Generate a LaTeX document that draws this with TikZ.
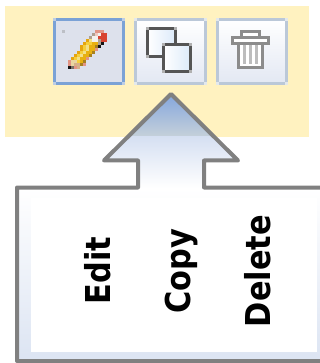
\documentclass[tikz,border=0pt]{standalone}
\usepackage{graphicx}
\usepackage{fontspec}
\setmainfont{DejaVu Sans}
\definecolor{band}{HTML}{FFF2C0}
\definecolor{outl}{HTML}{808080}
\definecolor{selb}{HTML}{7BA2D6}
\definecolor{selc}{HTML}{BDCDE4}
\definecolor{selbg}{HTML}{DDE1EC}
\definecolor{btnb}{HTML}{BBC8D8}
\definecolor{btnc}{HTML}{E3E8EC}
\definecolor{btnlo}{HTML}{E3E8F3}
\definecolor{iconl}{HTML}{555555}
\definecolor{iconc}{HTML}{B0B0B0}
\definecolor{doclo}{HTML}{DCEAFA}
\definecolor{trash}{HTML}{8C8C8C}
\definecolor{stripe}{HTML}{BDBDBD}
\definecolor{boxlo}{HTML}{DDE5F3}
\definecolor{tipc}{HTML}{84A6DD}
\definecolor{midc}{HTML}{C6D1DA}
\definecolor{lowc}{HTML}{D6E0F2}
\definecolor{sa}{HTML}{E29484}
\definecolor{pk}{HTML}{F0C8C0}
\definecolor{gt}{HTML}{AFA090}
\definecolor{rd}{HTML}{D8432F}
\definecolor{wh}{HTML}{F4F2EE}
\definecolor{og}{HTML}{E5A510}
\definecolor{ye}{HTML}{F5CF3C}
\definecolor{ly}{HTML}{F2E08A}
\definecolor{gd}{HTML}{E8B010}
\definecolor{br}{HTML}{A8811F}
\definecolor{bk}{HTML}{141414}
\definecolor{cr}{HTML}{EAD6A0}
\definecolor{tn}{HTML}{D6B088}
\definecolor{gy}{HTML}{787068}
\tikzset{
  x=1pt,y=-1pt,
  btnsel/.style={fill=selbg,draw=selb,line width=3pt},
  btnplain/.style={top color=white,bottom color=btnlo,draw=btnb,line width=3pt},
  doc/.style={left color=white,right color=doclo,draw=iconl,line width=3pt},
  trashline/.style={draw=trash,line width=3pt},
  outline/.style={draw=outl,line width=4pt,line join=round},
  label/.style={font=\bfseries\fontsize{34.3}{36}\selectfont,rotate=90,anchor=base,inner sep=0pt,text=black}
}
\newcommand{\corners}[5]{%
  \fill[#5] (#1-1.5,#2-1.5) rectangle ++(3,3);
  \fill[#5] (#3-1.5,#2-1.5) rectangle ++(3,3);
  \fill[#5] (#1-1.5,#4-1.5) rectangle ++(3,3);
  \fill[#5] (#3-1.5,#4-1.5) rectangle ++(3,3);}
\newcommand{\narrow}[1]{\scalebox{0.886}[1]{#1}}
\begin{document}
\begin{tikzpicture}
\useasboundingbox (0,0) rectangle (320,363);
\fill[white] (0,0) rectangle (320,363);
\fill[band] (5,6) rectangle (309,137);
% buttons
\draw[btnsel] (54.5,19.5) rectangle (123.5,83.5);
\corners{54.5}{19.5}{123.5}{83.5}{selc}
\draw[btnplain] (135.5,19.5) rectangle (205.5,83.5);
\corners{135.5}{19.5}{205.5}{83.5}{btnc}
\draw[btnplain] (217.5,19.5) rectangle (286.5,83.5);
\corners{217.5}{19.5}{286.5}{83.5}{btnc}
% pencil
\begin{scope}[shift={(68,30)}]
\foreach \c/\r/\k in {
 9/0/sa,10/0/sa,11/0/sa,
 8/1/gt,9/1/pk,10/1/wh,11/1/rd,12/1/rd,
 7/2/gt,8/2/wh,9/2/wh,10/2/rd,11/2/rd,12/2/rd,
 6/3/og,7/3/ly,8/3/wh,9/3/wh,10/3/gt,11/3/rd,12/3/rd,
 5/4/og,6/4/ye,7/4/ye,8/4/gd,9/4/gd,10/4/gt,11/4/bk,
 4/5/og,5/5/ye,6/5/ly,7/5/gd,8/5/gd,9/5/br,10/5/bk,
 4/6/og,5/6/ye,6/6/ly,7/6/gd,8/6/gd,9/6/sa,
 3/7/og,4/7/ye,5/7/ly,6/7/gd,7/7/gd,8/7/br,
 2/8/og,3/8/ye,4/8/ly,5/8/gd,6/8/gd,7/8/br,
 1/9/og,2/9/ye,3/9/ly,4/9/gd,5/9/gd,6/9/sa,
 0/10/sa,1/10/cr,2/10/cr,3/10/ye,4/10/gd,5/10/br,
 0/11/sa,1/11/cr,2/11/tn,3/11/tn,4/11/br,5/11/sa,
 0/12/bk,1/12/gy,2/12/sa,3/12/tn}
 {\fill[\k] (\c*3,\r*3) rectangle ++(3.05,3.05);}
\end{scope}
\fill[gray!35!selbg] (62,30) rectangle (65,33);
% copy icon
\draw[doc] (147.5,28.5) rectangle (175.5,56.5);
\corners{147.5}{28.5}{175.5}{56.5}{iconc}
\draw[doc] (163.5,44.5) rectangle (190.5,71.5);
\corners{163.5}{44.5}{190.5}{71.5}{iconc}
% trash icon
\fill[white] (240,30) rectangle (261,36);
\draw[trashline] (241.5,36) -- (241.5,31.5) -- (259.5,31.5) -- (259.5,36);
\draw[trashline,fill=white] (232.5,37.5) rectangle (268.5,43.5);
\draw[trashline,fill=white] (238.5,45) -- (238.5,67.5) -- (262.5,67.5) -- (262.5,45);
\fill[stripe] (243,45) rectangle (246,64);
\fill[stripe] (249,45) rectangle (252,64);
\fill[stripe] (255,45) rectangle (258,64);
% callout fill
\begin{scope}
\clip (171,94) -- (238,160.5) -- (204,160.5) -- (204,187.5) -- (325,187.5) -- (325,361) -- (17,361) -- (17,187.5) -- (138,187.5) -- (138,160.5) -- (104,160.5) -- cycle;
\shade[top color=tipc,bottom color=midc] (90,94) rectangle (250,137);
\shade[top color=lowc,bottom color=white] (90,137) rectangle (250,188);
\shade[top color=white,bottom color=boxlo] (10,188) rectangle (325,356);
\fill[boxlo] (10,356) rectangle (325,363);
\fill[white] (31,198) rectangle (317,352);
\end{scope}
\draw[outline] (171,94) -- (238,160.5) -- (204,160.5) -- (204,187.5) -- (325,187.5) -- (325,361) -- (17,361) -- (17,187.5) -- (138,187.5) -- (138,160.5) -- (104,160.5) -- cycle;
% labels
\node[label] (edit) at (110,270.5) {\narrow{Edit}};
\node[label] (copy) at (190,271.5) {\narrow{Copy}};
\node[label] (delete) at (270.7,271) {\narrow{Delete}};
\end{tikzpicture}
\end{document}
